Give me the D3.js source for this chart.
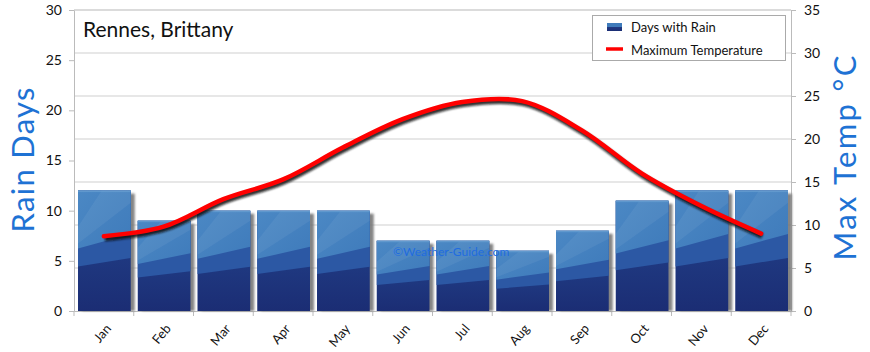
<!DOCTYPE html>
<html>
<head>
<meta charset="utf-8">
<script src="https://cdn.jsdelivr.net/npm/d3@7"></script>
<style>
  body { margin: 0; background: #fff; }
  svg { display: block; font-family: Lato, "DejaVu Sans", sans-serif; }
</style>
</head>
<body>
<svg id="chart" width="870" height="352"></svg>
<script>
const months = ["Jan", "Feb", "Mar", "Apr", "May", "Jun", "Jul", "Aug", "Sep", "Oct", "Nov", "Dec"];
const rainDays = [12, 9, 10, 10, 10, 7, 7, 6, 8, 11, 12, 12];
const maxTemp = [8.7, 9.8, 13, 15.3, 19, 22.3, 24.3, 24.4, 21, 16, 12.2, 9];
const rainTicks = [0, 5, 10, 15, 20, 25, 30];
const tempTicks = [0, 5, 10, 15, 20, 25, 30, 35];

const svg = d3.select("#chart");
const plotL = 74, plotR = 791, plotT = 10, plotB = 311;

const x = d3.scaleBand().domain(months).range([plotL, plotR]);
const yL = d3.scaleLinear().domain([0, 30]).range([plotB, plotT]);
const yR = d3.scaleLinear().domain([0, 35]).range([plotB, plotT]);

const defs = svg.append("defs");

const base = defs.append("linearGradient").attr("id", "base")
  .attr("x1", 0).attr("y1", 0).attr("x2", 0).attr("y2", 1);
base.append("stop").attr("offset", "0%").attr("stop-color", "#24468f");
base.append("stop").attr("offset", "100%").attr("stop-color", "#1b2d74");

const light = defs.append("linearGradient").attr("id", "light")
  .attr("x1", 0).attr("y1", 0).attr("x2", 1).attr("y2", 1);
light.append("stop").attr("offset", "0%").attr("stop-color", "#4b88c4");
light.append("stop").attr("offset", "100%").attr("stop-color", "#3f7bbb");

const blur = defs.append("filter").attr("id", "blur")
  .attr("x", "-10%").attr("y", "-10%").attr("width", "120%").attr("height", "120%");
blur.append("feGaussianBlur").attr("stdDeviation", 1.2);

const sblur = defs.append("filter").attr("id", "sblur");
sblur.append("feGaussianBlur").attr("stdDeviation", 0.8);

// grid follows the temperature axis
svg.append("g")
  .selectAll("line")
  .data(tempTicks.slice(1))
  .join("line")
  .attr("x1", plotL).attr("x2", plotR)
  .attr("y1", d => yR(d)).attr("y2", d => yR(d))
  .attr("stroke", "#cfcfcf").attr("stroke-width", 1);

// axes
const axisColor = "#bbbbbb";
const gL = svg.append("g").attr("transform", `translate(${plotL},0)`)
  .call(d3.axisLeft(yL).tickValues(rainTicks).tickSize(5).tickPadding(7));
const gR = svg.append("g").attr("transform", `translate(${plotR},0)`)
  .call(d3.axisRight(yR).tickValues(tempTicks).tickSize(5).tickPadding(8));
const gX = svg.append("g").attr("transform", `translate(0,${plotB})`)
  .call(d3.axisBottom(x).tickSize(0).tickFormat(""));

[gL, gR, gX].forEach(g => {
  g.select(".domain").attr("stroke", axisColor);
  g.selectAll(".tick line").attr("stroke", axisColor);
  g.selectAll("text").attr("fill", "#111").style("font-size", "14px")
    .style("font-family", "Lato, 'DejaVu Sans', sans-serif");
});

// x ticks at band boundaries
svg.append("g")
  .selectAll("line")
  .data(d3.range(months.length + 1))
  .join("line")
  .attr("x1", i => plotL + x.step() * i)
  .attr("x2", i => plotL + x.step() * i)
  .attr("y1", plotB).attr("y2", plotB + 5)
  .attr("stroke", axisColor);

// x labels
svg.append("g")
  .selectAll("text")
  .data(months)
  .join("text")
  .attr("transform", d => `translate(${x(d) + x.bandwidth() / 2 + 8},${plotB + 18}) rotate(-50)`)
  .attr("text-anchor", "end")
  .attr("font-size", 13)
  .attr("fill", "#111")
  .text(d => d);

// top border
svg.append("line").attr("x1", plotL).attr("x2", plotR)
  .attr("y1", plotT).attr("y2", plotT).attr("stroke", "#cfcfcf");

// bars
const bw = x.bandwidth() - 7;
const bars = svg.append("g")
  .selectAll("g")
  .data(months.map((m, i) => ({ m, v: rainDays[i] })))
  .join("g");

bars.append("rect")
  .attr("x", d => x(d.m) + 8)
  .attr("y", d => yL(d.v) + 3)
  .attr("width", bw)
  .attr("height", d => plotB - yL(d.v) - 3)
  .attr("fill", "#777")
  .attr("opacity", 0.9)
  .attr("filter", "url(#sblur)");

bars.append("rect")
  .attr("x", d => x(d.m) + 4)
  .attr("y", d => yL(d.v))
  .attr("width", bw)
  .attr("height", d => plotB - yL(d.v))
  .attr("fill", "url(#base)");

function band(d, a, b) {
  const x0 = x(d.m) + 4, x1 = x0 + bw;
  const y0 = yL(d.v), h = plotB - y0;
  return `M${x0},${y0}H${x1}V${y0 + h * b}L${x0},${y0 + h * a}Z`;
}

bars.append("path").attr("d", d => band(d, 0.63, 0.56)).attr("fill", "#2c58a4");
bars.append("path").attr("d", d => band(d, 0.48, 0.36)).attr("fill", "url(#light)");
bars.append("path")
  .attr("d", d => {
    const x0 = x(d.m) + 4, y0 = yL(d.v), h = plotB - y0;
    return `M${x0},${y0 + h * 0.3}L${x0 + bw * 0.45},${y0}H${x0 + bw}V${y0 + h * 0.1}L${x0},${y0 + h * 0.44}Z`;
  })
  .attr("fill", "#ffffff").attr("opacity", 0.06);
bars.append("rect")
  .attr("x", d => x(d.m) + 4)
  .attr("y", d => yL(d.v))
  .attr("width", bw).attr("height", 1.5)
  .attr("fill", "#6a9fd2").attr("opacity", 0.7);

// watermark
svg.append("text")
  .attr("x", 393).attr("y", 256)
  .attr("font-size", 12)
  .attr("fill", "#1f6ce0")
  .text("©Weather-Guide.com");

// temperature line
const line = d3.line()
  .x((d, i) => x(months[i]) + x.bandwidth() / 2)
  .y(d => yR(d))
  .curve(d3.curveCatmullRom.alpha(0.5));

svg.append("path")
  .datum(maxTemp)
  .attr("d", line)
  .attr("transform", "translate(1,2.5)")
  .attr("fill", "none")
  .attr("stroke", "#111")
  .attr("stroke-width", 5)
  .attr("opacity", 0.85)
  .attr("filter", "url(#blur)");

svg.append("path")
  .datum(maxTemp)
  .attr("d", line)
  .attr("fill", "none")
  .attr("stroke", "#ff0000")
  .attr("stroke-width", 4.5)
  .attr("stroke-linecap", "round");

// title
svg.append("text")
  .attr("x", 83).attr("y", 37)
  .attr("font-size", 21)
  .attr("fill", "#111")
  .text("Rennes, Brittany");

// axis titles
svg.append("text")
  .attr("transform", `translate(34,160) rotate(-90)`)
  .attr("text-anchor", "middle")
  .attr("font-size", 31)
  .attr("fill", "#1e72d4")
  .attr("textLength", 145)
  .attr("lengthAdjust", "spacing")
  .text("Rain Days");

svg.append("text")
  .attr("transform", `translate(856,158) rotate(-90)`)
  .attr("text-anchor", "middle")
  .attr("font-size", 31)
  .attr("fill", "#1e72d4")
  .attr("textLength", 205)
  .attr("lengthAdjust", "spacing")
  .text("Max Temp °C");

// legend
const lg = svg.append("g");
lg.append("rect")
  .attr("x", 592.5).attr("y", 15.5).attr("width", 193).attr("height", 45)
  .attr("fill", "#fff").attr("stroke", "#aaaaaa");
lg.append("rect")
  .attr("x", 607).attr("y", 23).attr("width", 15).attr("height", 8)
  .attr("fill", "url(#base)");
lg.append("rect")
  .attr("x", 607).attr("y", 23).attr("width", 15).attr("height", 4)
  .attr("fill", "#3f7bbb");
lg.append("text").attr("x", 631).attr("y", 32).attr("font-size", 13).attr("fill", "#111")
  .text("Days with Rain");
lg.append("line")
  .attr("x1", 606).attr("x2", 623).attr("y1", 49).attr("y2", 49)
  .attr("stroke", "#ff0000").attr("stroke-width", 3.5);
lg.append("text").attr("x", 631).attr("y", 55).attr("font-size", 13).attr("fill", "#111")
  .text("Maximum Temperature");
</script>
</body>
</html>
